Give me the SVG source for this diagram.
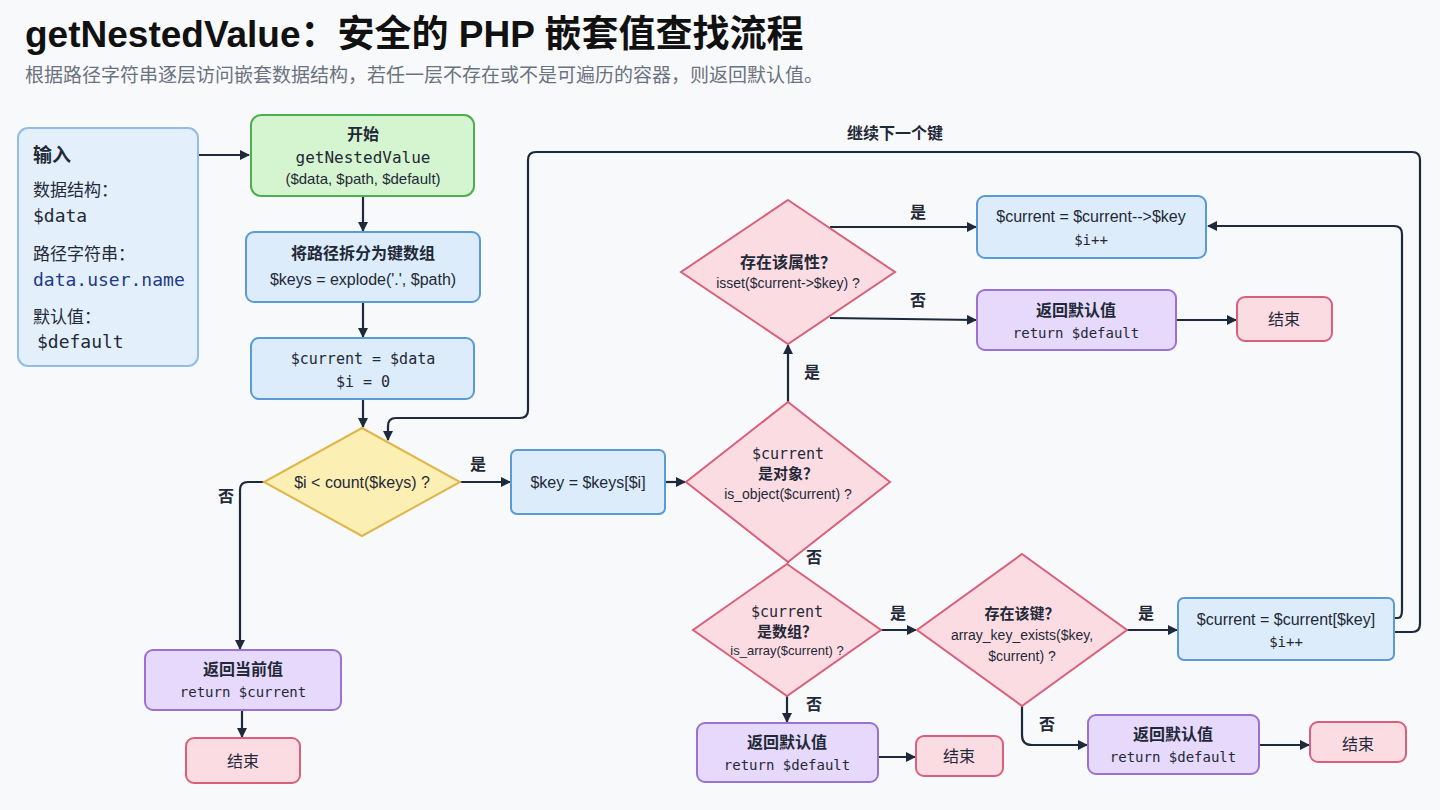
<svg xmlns="http://www.w3.org/2000/svg" width="1440" height="810" viewBox="0 0 1440 810">
<style>
text{font-family:"Liberation Sans","Noto Sans CJK SC",sans-serif;fill:#1f2937;text-anchor:middle}
.m{font-family:"DejaVu Sans Mono","Noto Sans CJK SC",monospace}
.b{font-weight:bold}
.blue{fill:#dcecfb;stroke:#5b9bd5;stroke-width:2}
.green{fill:#d5f5d0;stroke:#4caf50;stroke-width:2}
.purple{fill:#e6d9fb;stroke:#9b72d0;stroke-width:2}
.pink{fill:#fcdce3;stroke:#d9607a;stroke-width:2}
.yellow{fill:#fcefb4;stroke:#e0b64a;stroke-width:2}
.c{fill:none;stroke:#1e293b;stroke-width:2.2;marker-end:url(#a)}
.l{font-size:16px;font-weight:bold}
</style>
<defs><marker id="a" markerWidth="10" markerHeight="10" refX="9" refY="5" orient="auto" markerUnits="userSpaceOnUse" viewBox="0 0 10 10"><path d="M0,0L10,5L0,10z" fill="#1e293b"/></marker></defs>
<rect width="1440" height="810" fill="#f8f9fb"/>
<text x="25" y="47" style="text-anchor:start;font-size:37px;font-weight:bold;fill:#111">getNestedValue：安全的 PHP 嵌套值查找流程</text>
<text x="25" y="82" style="text-anchor:start;font-size:19px;fill:#6b7280">根据路径字符串逐层访问嵌套数据结构，若任一层不存在或不是可遍历的容器，则返回默认值。</text>
<g id="connectors">
<path class="c" d="M199,155H249"/>
<path class="c" d="M363,196V231"/>
<path class="c" d="M363,302V337"/>
<path class="c" d="M363,399V427"/>
<path class="c" d="M460,482H510"/>
<path class="c" d="M665,482H685"/>
<path class="c" d="M788,402V345"/>
<path class="c" d="M830,227H976"/>
<path class="c" d="M830,318L976,320"/>
<path class="c" d="M1176,320H1236"/>
<path class="c" d="M788,548V563"/>
<path class="c" d="M881,630H916"/>
<path class="c" d="M1127,630H1177"/>
<path class="c" d="M787,696V722"/>
<path class="c" d="M878,757H915"/>
<path class="c" d="M1022,706V735Q1022,745 1032,745H1087"/>
<path class="c" d="M1259,745H1309"/>
<path class="c" d="M1394,618H1398Q1402,618 1402,610V234Q1402,226 1394,226H1208"/>
<path class="c" d="M1394,632H1412Q1420,632 1420,624V160Q1420,152 1412,152H536Q528,152 528,160V410Q528,418 520,418H396Q388,418 388,426V440"/>
<path class="c" d="M264,482H248Q240,482 240,490V649"/>
<path class="c" d="M242,710V737"/>
<text x="895" y="139" class="l">继续下一个键</text>
<text x="478" y="470" class="l">是</text>
<text x="226" y="502" class="l">否</text>
<text x="812" y="378" class="l">是</text>
<text x="918" y="218" class="l">是</text>
<text x="918" y="306" class="l">否</text>
<text x="814" y="563" class="l">否</text>
<text x="898" y="619" class="l">是</text>
<text x="1146" y="619" class="l">是</text>
<text x="814" y="710" class="l">否</text>
<text x="1047" y="730" class="l">否</text>
</g>
<g id="input"><rect x="18" y="128" width="180" height="238" rx="10" fill="#e3effb" stroke="#92bde6" stroke-width="2"/>
<text x="33" y="162" style="text-anchor:start;font-size:19px;font-weight:bold">输入</text>
<text x="33" y="196" style="text-anchor:start;font-size:17px">数据结构：</text>
<text x="33" y="222" class="m" style="text-anchor:start;font-size:18px">$data</text>
<text x="33" y="260" style="text-anchor:start;font-size:17px">路径字符串：</text>
<text x="33" y="286" class="m" style="text-anchor:start;font-size:18px;fill:#1e3a8a">data.user.name</text>
<text x="33" y="323" style="text-anchor:start;font-size:17px">默认值：</text>
<text x="37" y="348" class="m" style="text-anchor:start;font-size:18px">$default</text></g>
<g id="start"><rect class="green" x="251" y="115" width="223" height="81" rx="10"/>
<text x="363" y="140" class="b" style="font-size:16px">开始</text>
<text x="363" y="163" class="m" style="font-size:16px">getNestedValue</text>
<text x="363" y="184" style="font-size:15px">($data, $path, $default)</text></g>
<g id="split"><rect class="blue" x="246" y="232" width="234" height="70" rx="8"/>
<text x="363" y="259" class="b" style="font-size:16px">将路径拆分为键数组</text>
<text x="363" y="285" style="font-size:16px">$keys = explode('.', $path)</text></g>
<g id="init"><rect class="blue" x="251" y="338" width="223" height="61" rx="8"/>
<text x="363" y="364" class="m" style="font-size:15px">$current = $data</text>
<text x="363" y="387" class="m" style="font-size:15px">$i = 0</text></g>
<g id="loop"><path class="yellow" d="M362,428L460,482L362,536L264,482Z"/>
<text x="362" y="488" style="font-size:16px">$i &lt; count($keys) ?</text></g>
<g id="key"><rect class="blue" x="511" y="450" width="154" height="64" rx="6"/>
<text x="588" y="488" style="font-size:16px">$key = $keys[$i]</text></g>
<g id="isobj"><path class="pink" d="M788,402L890,482L788,562L686,482Z"/>
<text x="788" y="459" class="m" style="font-size:15px">$current</text>
<text x="788" y="479" class="b" style="font-size:15px">是对象？</text>
<text x="788" y="499" style="font-size:14px">is_object($current) ?</text></g>
<g id="isset"><path class="pink" d="M788,200L895,272L788,344L681,272Z"/>
<text x="788" y="268" class="b" style="font-size:16px">存在该属性？</text>
<text x="788" y="288" style="font-size:14px">isset($current-&gt;$key) ?</text></g>
<g id="objassign"><rect class="blue" x="977" y="196" width="229" height="62" rx="8"/>
<text x="1091" y="222" style="font-size:16px">$current = $current-->$key</text>
<text x="1091" y="245" class="m" style="font-size:14px">$i++</text></g>
<g id="ret1"><rect class="purple" x="977" y="290" width="199" height="60" rx="8"/>
<text x="1076" y="316" class="b" style="font-size:16px">返回默认值</text>
<text x="1076" y="338" class="m" style="font-size:14px">return $default</text></g>
<g id="end1"><rect class="pink" x="1237" y="297" width="95" height="44" rx="8"/>
<text x="1284" y="325" style="font-size:16px">结束</text></g>
<g id="isarr"><path class="pink" d="M787,564L881,630L787,696L693,630Z"/>
<text x="787" y="617" class="m" style="font-size:15px">$current</text>
<text x="787" y="637" class="b" style="font-size:15px">是数组？</text>
<text x="787" y="655" style="font-size:13px">is_array($current) ?</text></g>
<g id="keyexists"><path class="pink" d="M1022,554L1127,630L1022,706L917,630Z"/>
<text x="1022" y="619" class="b" style="font-size:15px">存在该键？</text>
<text x="1022" y="640" style="font-size:14px">array_key_exists($key,</text>
<text x="1022" y="661" style="font-size:14px">$current) ?</text></g>
<g id="arrassign"><rect class="blue" x="1178" y="598" width="216" height="62" rx="6"/>
<text x="1286" y="625" style="font-size:16px">$current = $current[$key]</text>
<text x="1286" y="647" class="m" style="font-size:14px">$i++</text></g>
<g id="ret2"><rect class="purple" x="697" y="723" width="181" height="59" rx="8"/>
<text x="787" y="748" class="b" style="font-size:16px">返回默认值</text>
<text x="787" y="770" class="m" style="font-size:14px">return $default</text></g>
<g id="end2"><rect class="pink" x="916" y="736" width="87" height="40" rx="8"/>
<text x="959" y="762" style="font-size:16px">结束</text></g>
<g id="ret3"><rect class="purple" x="1088" y="715" width="171" height="59" rx="8"/>
<text x="1173" y="740" class="b" style="font-size:16px">返回默认值</text>
<text x="1173" y="762" class="m" style="font-size:14px">return $default</text></g>
<g id="end3"><rect class="pink" x="1310" y="722" width="96" height="40" rx="8"/>
<text x="1358" y="750" style="font-size:16px">结束</text></g>
<g id="retcur"><rect class="purple" x="145" y="650" width="196" height="60" rx="8"/>
<text x="243" y="675" class="b" style="font-size:16px">返回当前值</text>
<text x="243" y="697" class="m" style="font-size:14px">return $current</text></g>
<g id="end0"><rect class="pink" x="186" y="738" width="114" height="45" rx="8"/>
<text x="243" y="767" style="font-size:16px">结束</text></g>
</svg>
